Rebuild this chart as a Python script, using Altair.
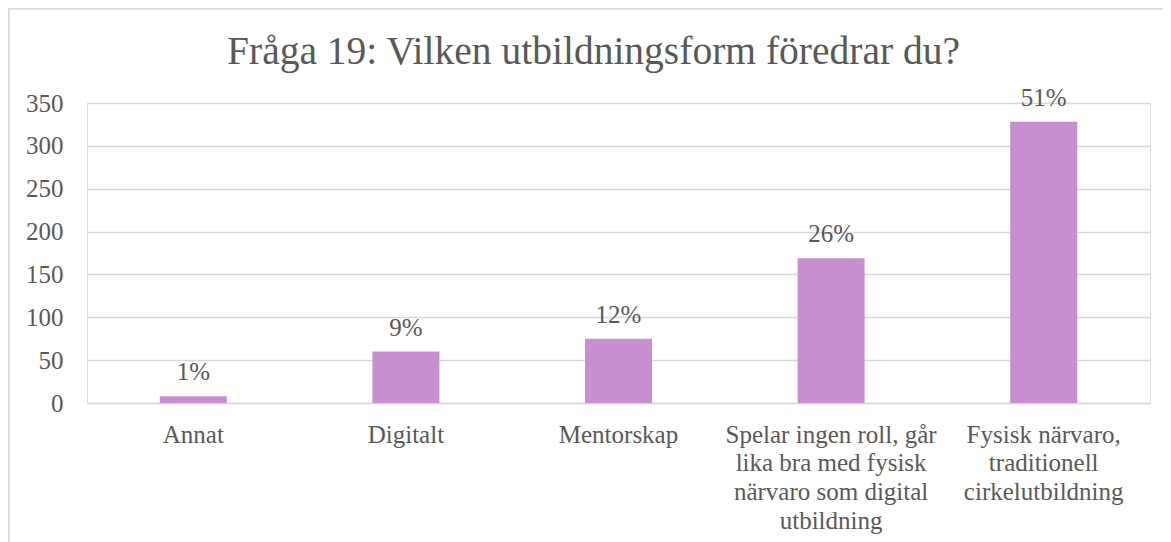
import altair as alt
import pandas as pd

# ---- data ----
categories = [
    "Annat",
    "Digitalt",
    "Mentorskap",
    "Spelar ingen roll, går|lika bra med fysisk|närvaro som digital|utbildning",
    "Fysisk närvaro,|traditionell|cirkelutbildning",
]
counts = [8, 60, 75, 169, 328]
percent_labels = ["1%", "9%", "12%", "26%", "51%"]
y_ticks = [0, 50, 100, 150, 200, 250, 300, 350]
title_text = "Fråga 19: Vilken utbildningsform föredrar du?"

df = pd.DataFrame({"kategori": categories, "antal": counts, "andel": percent_labels})

FONT = "Liberation Serif"
TXT = "#595959"
GRID = "#d9d9d9"
BAR = "#C78FCF"

W, H = 1063, 300
PAD = {"left": 79, "top": 95, "right": 13, "bottom": 139}

x = alt.X(
    "kategori:N",
    sort=categories,
    scale=alt.Scale(paddingInner=0.685, paddingOuter=0.3425),
    axis=alt.Axis(
        title=None,
        labelAngle=0,
        labelExpr="split(datum.label, '|')",
        labelFont=FONT,
        labelFontSize=25,
        labelColor=TXT,
        labelLineHeight=28.7,
        labelBaseline="top",
        labelPadding=19,
        ticks=False,
        domain=True,
        domainColor=GRID,
        domainWidth=1.3,
        labelLimit=400,
    ),
)
y = alt.Y(
    "antal:Q",
    scale=alt.Scale(domain=[0, 350], nice=False),
    axis=alt.Axis(
        title=None,
        values=y_ticks,
        labelFont=FONT,
        labelFontSize=25,
        labelColor=TXT,
        labelPadding=24,
        ticks=False,
        domain=False,
        grid=True,
        gridColor=GRID,
        gridWidth=1.3,
    ),
)

bars = alt.Chart(df).mark_bar(color=BAR).encode(x=x, y=y)

labels = alt.Chart(df).mark_text(
    font=FONT, fontSize=25, color=TXT, baseline="alphabetic", align="center", dy=-16
).encode(x=alt.X("kategori:N", sort=categories), y=alt.Y("antal:Q"), text="andel:N")

# outer chart frame (left and top edges of the chart border)
frame_left = alt.Chart(df).mark_rule(color=GRID, strokeWidth=1.5).encode(
    x=alt.value(-78.5), y=alt.value(-94.5), y2=alt.value(H + PAD["bottom"])
)
frame_top = alt.Chart(df).mark_rule(color=GRID, strokeWidth=1.5).encode(
    x=alt.value(-78.5), x2=alt.value(W + PAD["right"]), y=alt.value(-94.5)
)

chart = (
    alt.layer(frame_left, frame_top, bars, labels)
    .properties(
        width=W,
        height=H,
        padding=PAD,
        autosize=alt.AutoSizeParams(type="none"),
        title=alt.TitleParams(
            text=title_text,
            font=FONT,
            fontSize=39.5,
            fontWeight="normal",
            color=TXT,
            anchor="middle",
            baseline="alphabetic",
            dx=-25,
            dy=110,
            offset=14,
        ),
    )
    .configure_view(stroke=None)
    .configure(background="white")
)

chart.save("out.html", embed_options={"renderer": "svg", "actions": False})
